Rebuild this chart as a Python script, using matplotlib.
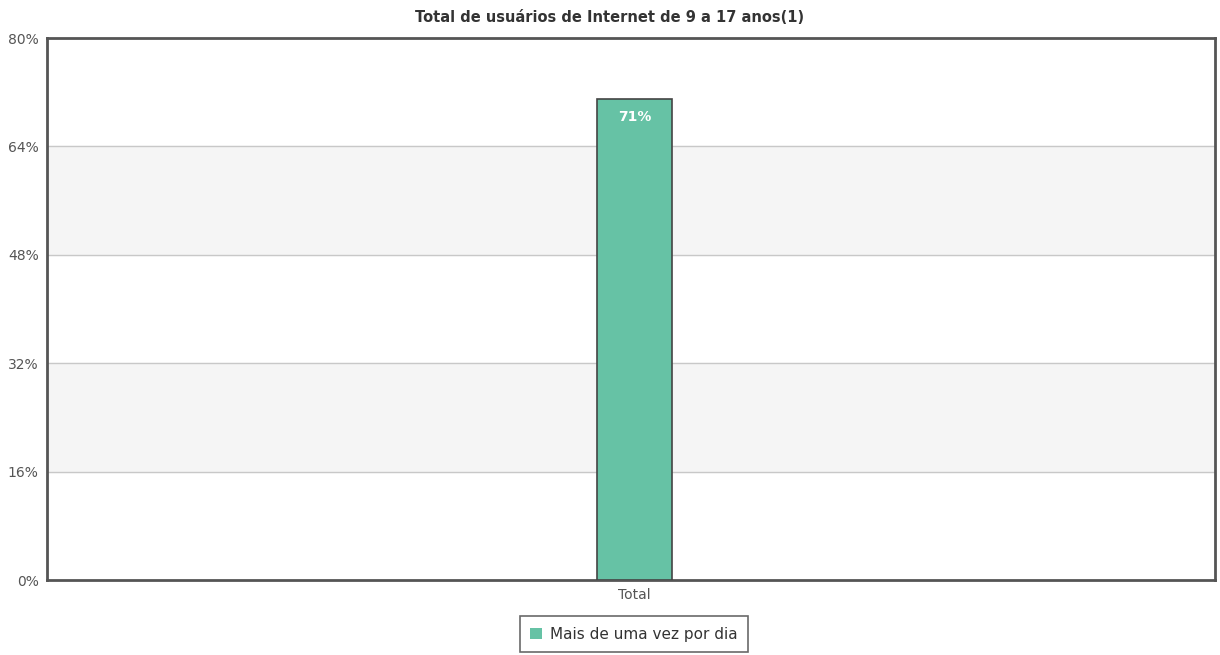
import matplotlib
matplotlib.use("Agg")
import matplotlib.pyplot as plt
from matplotlib.patches import Rectangle

categories = ["Total"]
values = [71]
series_name = "Mais de uma vez por dia"
title = "Total de usuários de Internet de 9 a 17 anos(1)"
yticks = [0, 16, 32, 48, 64, 80]

bar_color = "#66c2a5"
edge_color = "#444444"

fig = plt.figure(figsize=(12.2, 6.55), dpi=100)
ax = fig.add_axes([47 / 1220, 1 - 580 / 655, 1168 / 1220, 542 / 655])

# alternating bands
for i in range(len(yticks) - 1):
    if i % 2 == 1:
        ax.axhspan(yticks[i], yticks[i + 1], color="#f5f5f5", zorder=0)
for t in yticks[1:-1]:
    ax.axhline(t, color="#c8c8c8", lw=1, zorder=1)

x = list(range(len(categories)))
bars = ax.bar(x, values, width=0.064, color=bar_color, edgecolor=edge_color,
              linewidth=1.2, zorder=3)
for b, v in zip(bars, values):
    ax.text(b.get_x() + b.get_width() / 2, v - 2.6, "%d%%" % v, ha="center",
            va="center", color="white", fontsize=10, fontweight="bold", zorder=4)

ax.set_xlim(-0.503, 0.497)
ax.set_ylim(0, 80)
ax.set_yticks(yticks)
ax.set_yticklabels(["%d%%" % t for t in yticks])
ax.set_xticks(x)
ax.set_xticklabels(categories)
ax.tick_params(axis="both", length=0, colors="#555555", labelsize=10, pad=6)
for s in ax.spines.values():
    s.set_color("#555555")
    s.set_linewidth(2)

fig.text(0.5, 1 - 17 / 655, title, ha="center", va="center", fontsize=10.5,
         fontweight="bold", color="#333333")

handle = Rectangle((0, 0), 1, 1, facecolor=bar_color, edgecolor="none")
leg = fig.legend([handle], [series_name], loc="upper center",
                 bbox_to_anchor=(634 / 1220, 1 - 616 / 655), frameon=True,
                 fancybox=False, fontsize=11, handlelength=0.8, handleheight=0.8,
                 handletextpad=0.5, borderpad=0.7, borderaxespad=0)
leg.get_frame().set_edgecolor("#444444")
leg.get_frame().set_linewidth(1.2)
for t in leg.get_texts():
    t.set_color("#333333")

fig.savefig("out.png", dpi=100)
